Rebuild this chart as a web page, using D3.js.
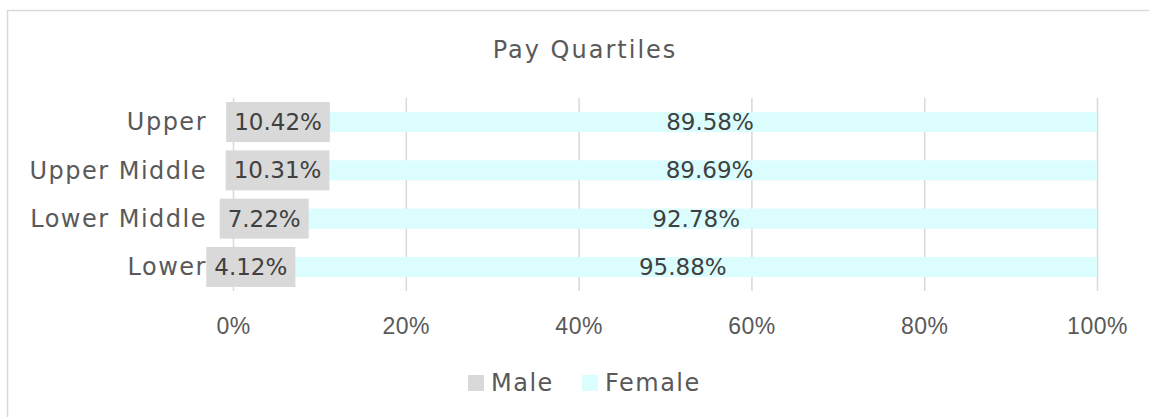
<!DOCTYPE html>
<html>
<head>
<meta charset="utf-8">
<script src="https://cdn.jsdelivr.net/npm/d3@7"></script>
<style>
  body { margin: 0; background: #fff; }
  svg { display: block; font-family: "DejaVu Sans", sans-serif; }
</style>
</head>
<body>
<div id="chart"></div>
<script>
// data
let categories = ["Upper", "Upper Middle", "Lower Middle", "Lower"];
let male = [10.42, 10.31, 7.22, 4.12];
let female = [89.58, 89.69, 92.78, 95.88];
let seriesNames = ["Male", "Female"];
let ticks = [0, 20, 40, 60, 80, 100];

let colors = {Male: "#d9d9d9", Female: "#dbfdfd"};

let W = 1149, H = 417;
let margin = {top: 98, left: 233, right: 52, bottom: 126};
let width = W - margin.left - margin.right;
let height = H - margin.top - margin.bottom;
let fs = 23;
let wordFs = 24, wordSp = "1.5px";

let svg = d3.select("#chart").append("svg")
    .attr("width", W)
    .attr("height", H);

// outer frame (cropped on the right and bottom)
svg.append("rect")
    .attr("x", 7.5).attr("y", 10.5)
    .attr("width", 1200).attr("height", 500)
    .attr("fill", "#fff")
    .attr("stroke", "#d9d9d9")
    .attr("stroke-width", 1.5);

svg.append("text")
    .attr("x", 585).attr("y", 50)
    .attr("dy", "0.35em")
    .attr("text-anchor", "middle")
    .attr("font-size", wordFs)
    .attr("letter-spacing", "2px")
    .attr("fill", "#595959")
    .text("Pay Quartiles");

let g = svg.append("g")
    .attr("transform", `translate(${margin.left}, ${margin.top})`);

let x = d3.scaleLinear().domain([0, 100]).range([0, width]);
let y = d3.scaleBand().domain(categories).range([0, height]).paddingInner(0.585).paddingOuter(0.29);

// gridlines
let xAxis = d3.axisBottom(x)
    .tickValues(ticks)
    .tickSize(height)
    .tickFormat(d => d + "%");

let ax = g.append("g").attr("class", "x axis").call(xAxis);
ax.select(".domain").remove();
ax.selectAll(".tick line").attr("stroke", "#d9d9d9").attr("stroke-width", 1.5);
ax.selectAll(".tick text")
    .attr("y", height + 35)
    .attr("dy", "0.35em")
    .attr("font-size", fs)
    .attr("letter-spacing", "0.5px")
    .attr("font-family", null)
    .attr("fill", "#595959");

// stacked data
let rows = categories.map((c, i) => ({cat: c, Male: male[i], Female: female[i]}));
let stack = d3.stack().keys(seriesNames)(rows);

g.selectAll(".series")
    .data(stack)
  .enter().append("g")
    .attr("class", "series")
    .attr("fill", d => colors[d.key])
  .selectAll("rect")
    .data(d => d)
  .enter().append("rect")
    .attr("x", d => x(d[0]))
    .attr("y", d => y(d.data.cat))
    .attr("width", d => x(d[1]) - x(d[0]))
    .attr("height", y.bandwidth());

// category labels
g.selectAll(".cat")
    .data(categories)
  .enter().append("text")
    .attr("class", "cat")
    .attr("x", -26)
    .attr("y", d => y(d) + y.bandwidth() / 2)
    .attr("dy", "0.35em")
    .attr("text-anchor", "end")
    .attr("font-size", wordFs)
    .attr("letter-spacing", wordSp)
    .attr("fill", "#595959")
    .text(d => d);

// male labels with boxes
let mLab = g.selectAll(".mlab")
    .data(stack[0])
  .enter().append("g")
    .attr("class", "mlab")
    .attr("transform", d => `translate(${(x(d[0]) + x(d[1])) / 2}, ${y(d.data.cat) + y.bandwidth() / 2})`);

mLab.append("rect").attr("fill", colors.Male);
mLab.append("text")
    .attr("text-anchor", "middle")
    .attr("dy", "0.35em")
    .attr("font-size", fs)
    .attr("fill", "#404040")
    .text(d => (d[1] - d[0]).toFixed(2) + "%");
mLab.each(function() {
  let t = d3.select(this).select("text").node().getComputedTextLength();
  d3.select(this).select("rect")
    .attr("x", -t / 2 - 8).attr("y", -20)
    .attr("width", t + 16).attr("height", 40);
});

// female labels
g.selectAll(".flab")
    .data(stack[1])
  .enter().append("text")
    .attr("class", "flab")
    .attr("x", d => (x(d[0]) + x(d[1])) / 2)
    .attr("y", d => y(d.data.cat) + y.bandwidth() / 2)
    .attr("dy", "0.35em")
    .attr("text-anchor", "middle")
    .attr("font-size", fs)
    .attr("fill", "#404040")
    .text(d => (d[1] - d[0]).toFixed(2) + "%");

// legend
let legend = svg.append("g").attr("transform", "translate(468, 383)");
let lx = [0, 114];
seriesNames.forEach((s, i) => {
  let item = legend.append("g").attr("transform", `translate(${lx[i]}, 0)`);
  item.append("rect")
    .attr("x", 0).attr("y", -8)
    .attr("width", 16).attr("height", 16)
    .attr("fill", colors[s]);
  item.append("text")
    .attr("x", 23).attr("dy", "0.35em")
    .attr("font-size", wordFs)
    .attr("letter-spacing", wordSp)
    .attr("fill", "#595959")
    .text(s);
});
</script>
</body>
</html>
